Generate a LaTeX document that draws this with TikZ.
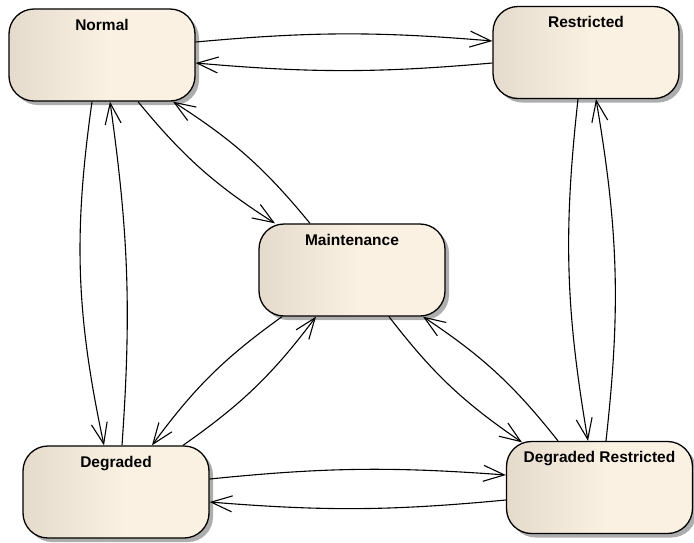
\documentclass[tikz,border=0pt]{standalone}
\usepackage{fontspec}
\setmainfont{Liberation Sans}
\usetikzlibrary{arrows.meta,shadows}

\definecolor{stateL}{RGB}{229,219,204}
\definecolor{stateR}{RGB}{251,241,227}
\pgfdeclarehorizontalshading{statefill}{100bp}{color(0bp)=(stateL); color(25bp)=(stateL); color(52bp)=(stateR); color(100bp)=(stateR)}

\tikzset{
  state/.style={rectangle, rounded corners=25pt, draw=black, line width=1.3pt,
    shading=statefill,
    drop shadow={shadow xshift=4pt, shadow yshift=-4pt, fill=black!32, opacity=1},
    minimum width=186pt, inner ysep=8pt, text height=13pt, text depth=63pt,
    font=\bfseries\fontsize{15.5}{18}\selectfont},
  trans/.style={line width=1.1pt, -{Straight Barb[length=21pt,width=16pt]}}
}

\begin{document}
\begin{tikzpicture}[x=1pt,y=-1pt]
  \useasboundingbox (0,0) rectangle (694,542);

  % states
  \node[state] (N)  at (102,55)     {Normal};
  \node[state] (R)  at (586,52.5)   {Restricted};
  \node[state] (M)  at (352,270)    {Maintenance};
  \node[state] (D)  at (116,492)    {Degraded};
  \node[state] (DR) at (599.5,487.5){Degraded Restricted};

  % Normal <-> Restricted
  \draw[trans] ([yshift=13pt]N.east) to[bend left=5] ([yshift=11.5pt]R.west);
  \draw[trans] ([yshift=-10.5pt]R.west) to[bend left=5] ([yshift=-8pt]N.east);

  % Normal <-> Maintenance
  \draw[trans] ([xshift=36pt]N.south) to[bend right=9] ([xshift=-77pt]M.north);
  \draw[trans] ([xshift=-42pt]M.north) to[bend right=9] ([xshift=71pt]N.south);

  % Normal <-> Degraded
  \draw[trans] ([xshift=-10pt]N.south) to[bend right=10] ([xshift=-12pt]D.north);
  \draw[trans] ([xshift=6pt]D.north) to[bend right=6] ([xshift=8pt]N.south);

  % Maintenance <-> Degraded
  \draw[trans] ([xshift=-70pt]M.south) to[bend right=9] ([xshift=36pt]D.north);
  \draw[trans] ([xshift=67pt]D.north) to[bend right=9] ([xshift=-36pt]M.south);

  % Maintenance <-> Degraded Restricted
  \draw[trans] ([xshift=37pt]M.south) to[bend right=9] ([xshift=-77.5pt,yshift=-1.5pt]DR.north);
  \draw[trans] ([xshift=-41.5pt]DR.north) to[bend right=9] ([xshift=71pt]M.south);

  % Restricted <-> Degraded Restricted
  \draw[trans] ([xshift=-8pt]R.south) to[bend right=8] ([xshift=-11.5pt]DR.north);
  \draw[trans] ([xshift=6.5pt]DR.north) to[bend right=8] ([xshift=10pt]R.south);

  % Degraded <-> Degraded Restricted
  \draw[trans] ([yshift=13pt]D.east) to[bend left=5] ([yshift=12.5pt]DR.west);
  \draw[trans] ([yshift=-12.5pt]DR.west) to[bend left=5] ([yshift=-10pt]D.east);
\end{tikzpicture}
\end{document}
